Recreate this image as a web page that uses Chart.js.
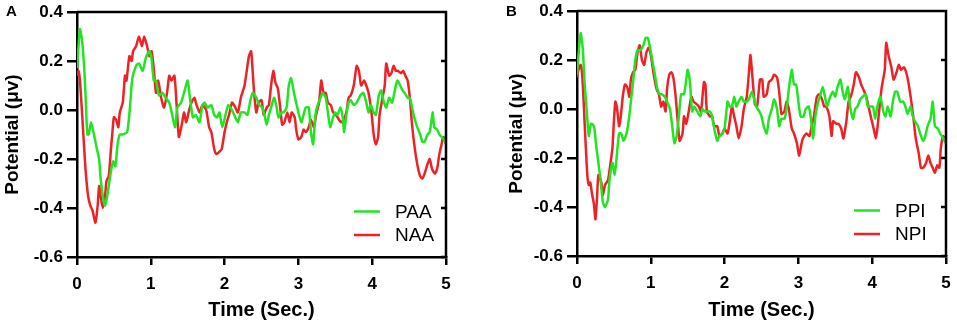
<!DOCTYPE html>
<html>
<head>
<meta charset="utf-8">
<script src="https://cdn.jsdelivr.net/npm/chart.js@4.4.1/dist/chart.umd.min.js"></script>
<style>
  body { margin: 0; background: #fff; width: 957px; height: 327px; position: relative; overflow: hidden; }
  canvas { position: absolute; top: 0; }
  .tag { position: absolute; font: bold 15px "Liberation Sans", Arial, sans-serif; }
</style>
</head>
<body>
<canvas id="chartA" width="478" height="327" style="left:0"></canvas>
<canvas id="chartB" width="479" height="327" style="left:478px"></canvas>
<div class="tag" style="left:6px;top:2px">A</div>
<div class="tag" style="left:506px;top:2px">B</div>
<script>
// time (sec), potential (uV)
const paa = [[0,0.17],[0.04,0.33],[0.07,0.28],[0.10,0.16],[0.12,0.03],[0.14,-0.10],[0.16,-0.10],[0.19,-0.05],[0.23,-0.10],[0.27,-0.16],[0.30,-0.20],[0.32,-0.28],[0.36,-0.37],[0.38,-0.39],[0.41,-0.35],[0.46,-0.25],[0.49,-0.21],[0.52,-0.23],[0.55,-0.14],[0.58,-0.10],[0.62,-0.10],[0.68,-0.09],[0.72,0.02],[0.75,0.13],[0.80,0.18],[0.84,0.19],[0.89,0.16],[0.93,0.21],[0.98,0.24],[1.01,0.21],[1.04,0.12],[1.07,0.12],[1.11,0.06],[1.16,0.07],[1.20,0.05],[1.25,0.03],[1.29,-0.02],[1.33,-0.07],[1.36,0.01],[1.41,0.03],[1.45,0.07],[1.50,0.12],[1.53,0.05],[1.57,-0.03],[1.61,-0.02],[1.66,-0.05],[1.70,0.02],[1.73,0.03],[1.77,0.01],[1.82,0.02],[1.86,-0.02],[1.90,-0.03],[1.93,-0.01],[1.97,-0.07],[2.02,-0.01],[2.05,0.02],[2.10,0.00],[2.13,-0.02],[2.18,-0.05],[2.22,-0.01],[2.27,-0.01],[2.31,-0.02],[2.35,0.04],[2.38,0.07],[2.43,0.05],[2.47,0.02],[2.51,0.01],[2.54,-0.02],[2.57,-0.06],[2.60,-0.02],[2.63,0.01],[2.67,0.05],[2.70,0.02],[2.73,-0.03],[2.77,-0.01],[2.80,-0.01],[2.84,0.01],[2.87,0.10],[2.90,0.13],[2.94,0.07],[2.97,0.03],[3.00,-0.01],[3.04,-0.05],[3.07,-0.02],[3.10,0.01],[3.14,0.01],[3.17,-0.09],[3.20,-0.14],[3.23,-0.02],[3.26,0.02],[3.30,0.05],[3.33,0.07],[3.37,0.05],[3.40,-0.01],[3.43,-0.07],[3.47,-0.03],[3.50,-0.01],[3.53,-0.02],[3.57,0.01],[3.60,-0.03],[3.62,-0.09],[3.65,-0.02],[3.68,0.03],[3.71,0.04],[3.75,0.02],[3.79,0.03],[3.84,0.06],[3.88,0.07],[3.92,0.03],[3.95,-0.01],[3.98,0.02],[4.02,-0.01],[4.05,-0.02],[4.09,0.06],[4.12,0.08],[4.16,0.03],[4.19,0.01],[4.23,0.05],[4.27,0.03],[4.30,0.07],[4.34,0.12],[4.38,0.10],[4.41,0.08],[4.44,0.07],[4.48,0.05],[4.51,0.05],[4.54,0.01],[4.57,-0.03],[4.61,-0.07],[4.65,-0.10],[4.68,-0.13],[4.71,-0.13],[4.75,-0.10],[4.78,-0.09],[4.82,-0.01],[4.84,-0.07],[4.88,-0.08],[4.91,-0.10],[4.94,-0.11],[4.97,-0.12],[5.00,-0.14]];

const naa = [[0,0.14],[0.02,0.16],[0.04,0.12],[0.07,-0.02],[0.10,-0.17],[0.12,-0.26],[0.15,-0.35],[0.18,-0.39],[0.21,-0.41],[0.25,-0.46],[0.28,-0.39],[0.30,-0.31],[0.32,-0.35],[0.35,-0.40],[0.38,-0.35],[0.40,-0.29],[0.43,-0.27],[0.46,-0.16],[0.48,-0.09],[0.50,-0.03],[0.53,-0.04],[0.56,-0.07],[0.58,-0.01],[0.62,0.03],[0.65,0.14],[0.67,0.12],[0.71,0.22],[0.74,0.20],[0.76,0.24],[0.80,0.26],[0.84,0.30],[0.88,0.26],[0.91,0.30],[0.95,0.26],[0.98,0.22],[1.01,0.24],[1.04,0.17],[1.07,0.07],[1.10,0.12],[1.14,0.05],[1.18,0.01],[1.22,0.07],[1.25,0.14],[1.28,0.12],[1.32,0.14],[1.35,0.02],[1.38,-0.11],[1.42,-0.06],[1.45,-0.01],[1.48,-0.05],[1.52,0.00],[1.55,0.03],[1.59,0.05],[1.62,0.02],[1.66,-0.01],[1.70,0.02],[1.75,0.00],[1.79,-0.07],[1.82,-0.09],[1.86,-0.16],[1.89,-0.18],[1.93,-0.17],[1.96,-0.16],[2.00,-0.09],[2.03,-0.05],[2.06,-0.02],[2.10,0.03],[2.13,0.02],[2.18,-0.01],[2.22,0.05],[2.27,0.10],[2.30,0.16],[2.33,0.22],[2.36,0.24],[2.38,0.16],[2.40,0.07],[2.43,-0.01],[2.46,0.03],[2.50,0.04],[2.53,-0.02],[2.57,0.01],[2.60,0.02],[2.63,0.10],[2.66,0.16],[2.69,0.11],[2.72,0.09],[2.75,0.02],[2.78,-0.06],[2.81,-0.05],[2.85,-0.01],[2.88,-0.05],[2.91,-0.01],[2.95,-0.03],[2.97,-0.08],[3.00,-0.12],[3.04,-0.11],[3.07,-0.08],[3.10,-0.09],[3.14,-0.07],[3.17,-0.04],[3.21,-0.07],[3.24,-0.02],[3.28,0.03],[3.31,0.12],[3.34,0.07],[3.37,0.07],[3.40,0.03],[3.44,0.02],[3.47,-0.01],[3.51,-0.02],[3.55,-0.04],[3.58,-0.05],[3.61,-0.04],[3.65,-0.01],[3.68,0.05],[3.71,0.06],[3.75,0.10],[3.79,0.18],[3.82,0.16],[3.85,0.10],[3.89,0.12],[3.92,0.10],[3.95,0.07],[3.99,-0.01],[4.02,-0.10],[4.05,-0.14],[4.08,-0.11],[4.10,-0.02],[4.14,0.05],[4.17,0.10],[4.19,0.19],[4.23,0.14],[4.26,0.15],[4.29,0.18],[4.32,0.16],[4.35,0.16],[4.39,0.15],[4.42,0.16],[4.45,0.14],[4.48,0.12],[4.51,0.05],[4.54,-0.06],[4.57,-0.14],[4.61,-0.22],[4.65,-0.27],[4.68,-0.28],[4.71,-0.26],[4.75,-0.22],[4.78,-0.20],[4.81,-0.24],[4.85,-0.26],[4.88,-0.24],[4.91,-0.18],[4.94,-0.14],[4.96,-0.11],[4.99,-0.12]];

const ppi = [[0,0.14],[0.02,0.22],[0.05,0.31],[0.08,0.24],[0.10,0.12],[0.13,0.00],[0.16,-0.11],[0.19,-0.06],[0.23,-0.07],[0.26,-0.15],[0.29,-0.22],[0.32,-0.29],[0.35,-0.38],[0.38,-0.40],[0.42,-0.37],[0.44,-0.29],[0.48,-0.22],[0.51,-0.27],[0.53,-0.22],[0.57,-0.10],[0.60,-0.10],[0.63,-0.13],[0.67,-0.10],[0.70,-0.05],[0.73,0.03],[0.76,0.11],[0.79,0.20],[0.82,0.24],[0.86,0.24],[0.90,0.26],[0.93,0.29],[0.96,0.29],[0.99,0.25],[1.02,0.20],[1.05,0.15],[1.09,0.08],[1.12,0.06],[1.15,0.06],[1.19,0.05],[1.22,0.03],[1.26,0.00],[1.29,-0.07],[1.32,-0.14],[1.35,-0.11],[1.38,-0.03],[1.41,0.06],[1.45,0.06],[1.48,0.12],[1.50,0.16],[1.53,0.11],[1.56,-0.01],[1.59,0.01],[1.63,-0.01],[1.67,-0.03],[1.70,0.00],[1.73,-0.01],[1.76,-0.01],[1.80,-0.01],[1.83,-0.03],[1.86,-0.08],[1.90,-0.13],[1.93,-0.11],[1.97,-0.10],[2.00,-0.08],[2.04,0.03],[2.07,0.01],[2.10,0.01],[2.13,0.05],[2.16,0.01],[2.19,0.03],[2.23,0.05],[2.26,0.03],[2.30,0.03],[2.33,0.04],[2.37,0.07],[2.40,0.04],[2.43,0.01],[2.47,-0.01],[2.50,-0.03],[2.53,-0.07],[2.57,-0.10],[2.60,-0.04],[2.64,0.00],[2.67,0.04],[2.71,0.00],[2.74,-0.07],[2.77,-0.04],[2.81,-0.04],[2.84,0.00],[2.87,0.08],[2.91,0.16],[2.94,0.10],[2.97,0.10],[3.00,0.03],[3.03,-0.03],[3.07,-0.03],[3.10,0.00],[3.14,0.01],[3.17,-0.04],[3.20,-0.12],[3.23,-0.03],[3.26,0.02],[3.29,0.05],[3.33,0.09],[3.36,0.05],[3.39,0.01],[3.43,0.05],[3.47,0.07],[3.50,0.05],[3.53,0.09],[3.57,0.12],[3.60,0.07],[3.63,0.04],[3.67,0.09],[3.70,0.01],[3.74,-0.04],[3.77,0.00],[3.80,0.01],[3.84,0.04],[3.87,0.05],[3.91,0.06],[3.94,0.01],[3.97,0.01],[4.01,0.01],[4.04,-0.04],[4.07,0.01],[4.11,0.05],[4.15,-0.01],[4.18,-0.03],[4.21,0.01],[4.25,-0.03],[4.28,0.03],[4.31,0.07],[4.34,0.07],[4.38,0.03],[4.42,0.03],[4.45,0.01],[4.48,-0.02],[4.52,0.01],[4.55,-0.03],[4.58,-0.05],[4.62,-0.07],[4.65,-0.10],[4.69,-0.13],[4.72,-0.11],[4.75,-0.07],[4.79,-0.04],[4.82,0.03],[4.85,-0.07],[4.89,-0.08],[4.92,-0.10],[4.96,-0.12],[5.00,-0.14]];

const npi = [[0,0.13],[0.02,0.16],[0.05,0.18],[0.07,0.14],[0.09,0.03],[0.11,-0.10],[0.14,-0.27],[0.16,-0.31],[0.18,-0.30],[0.20,-0.34],[0.23,-0.39],[0.25,-0.45],[0.27,-0.37],[0.29,-0.27],[0.33,-0.30],[0.35,-0.35],[0.38,-0.31],[0.42,-0.29],[0.45,-0.23],[0.48,-0.16],[0.50,-0.05],[0.52,0.03],[0.54,0.01],[0.57,-0.07],[0.59,-0.04],[0.62,0.05],[0.65,0.10],[0.68,0.09],[0.71,0.05],[0.73,0.12],[0.76,0.15],[0.79,0.16],[0.82,0.23],[0.85,0.26],[0.88,0.20],[0.91,0.18],[0.94,0.23],[0.97,0.25],[1.00,0.22],[1.04,0.14],[1.08,0.08],[1.11,0.06],[1.14,0.01],[1.17,0.03],[1.20,-0.01],[1.22,0.08],[1.25,0.14],[1.28,0.15],[1.31,0.12],[1.34,0.04],[1.37,-0.07],[1.39,-0.13],[1.43,-0.10],[1.45,-0.03],[1.48,-0.06],[1.52,0.00],[1.55,0.05],[1.58,0.03],[1.62,0.02],[1.65,0.01],[1.68,-0.01],[1.72,0.11],[1.74,0.10],[1.76,-0.01],[1.80,-0.03],[1.83,-0.03],[1.86,-0.07],[1.90,-0.07],[1.93,-0.11],[1.97,-0.10],[2.00,-0.08],[2.04,-0.10],[2.07,-0.05],[2.10,0.01],[2.13,-0.03],[2.16,-0.07],[2.19,-0.12],[2.23,-0.07],[2.26,0.00],[2.30,0.05],[2.33,0.15],[2.35,0.22],[2.38,0.12],[2.41,0.02],[2.44,0.01],[2.48,0.12],[2.51,0.12],[2.53,0.05],[2.57,0.06],[2.60,0.11],[2.64,0.12],[2.67,0.14],[2.71,0.13],[2.74,0.07],[2.77,-0.02],[2.81,-0.01],[2.84,0.03],[2.87,0.00],[2.91,-0.08],[2.94,-0.10],[2.98,-0.14],[3.01,-0.19],[3.05,-0.13],[3.08,-0.11],[3.11,-0.10],[3.15,-0.11],[3.18,-0.07],[3.21,-0.03],[3.25,0.05],[3.28,0.06],[3.32,0.04],[3.35,0.01],[3.38,0.01],[3.42,-0.03],[3.45,-0.11],[3.47,-0.05],[3.51,-0.06],[3.54,-0.06],[3.58,-0.08],[3.61,-0.12],[3.65,-0.05],[3.68,0.03],[3.71,0.05],[3.75,0.10],[3.78,0.15],[3.82,0.13],[3.85,0.10],[3.88,0.08],[3.92,0.05],[3.95,0.01],[3.98,-0.03],[4.02,-0.08],[4.05,-0.12],[4.07,-0.08],[4.10,0.01],[4.13,0.09],[4.17,0.16],[4.19,0.27],[4.22,0.22],[4.26,0.17],[4.29,0.12],[4.33,0.15],[4.36,0.18],[4.39,0.16],[4.43,0.17],[4.46,0.15],[4.49,0.11],[4.53,0.03],[4.56,-0.04],[4.59,-0.12],[4.63,-0.18],[4.66,-0.24],[4.69,-0.24],[4.73,-0.22],[4.76,-0.19],[4.79,-0.22],[4.82,-0.24],[4.85,-0.26],[4.88,-0.23],[4.91,-0.24],[4.93,-0.16],[4.96,-0.11],[4.98,-0.12]];

const xTicks = [0, 1, 2, 3, 4, 5];
const yTicks = [-0.6, -0.4, -0.2, 0, 0.2, 0.4];

const GREEN = 'rgb(34,228,34)';
const RED = 'rgb(236,34,38)';
const FONT = '"Liberation Sans", Arial, sans-serif';

Chart.defaults.font.family = FONT;
Chart.defaults.color = '#000';

// top + right frame, inward right ticks, legend in lower right
const framePlugin = {
  id: 'frame',
  afterDraw(chart) {
    const { ctx, chartArea: a, scales } = chart;
    ctx.save();
    ctx.strokeStyle = '#000';
    ctx.lineWidth = 2.5;
    ctx.beginPath();
    ctx.moveTo(a.left, a.top);
    ctx.lineTo(a.right, a.top);
    ctx.lineTo(a.right, a.bottom);
    yTicks.forEach(v => {
      const y = scales.y.getPixelForValue(v);
      ctx.moveTo(a.right, y);
      ctx.lineTo(a.right - 5, y);
    });
    ctx.stroke();

    ctx.font = '19px ' + FONT;
    ctx.textBaseline = 'middle';
    ctx.fillStyle = '#000';
    const rows = [45.5, 22];
    chart.data.datasets.forEach((ds, i) => {
      const y = a.bottom - rows[i];
      ctx.strokeStyle = ds.borderColor;
      ctx.lineWidth = 2.5;
      ctx.beginPath();
      ctx.moveTo(a.right - 92, y);
      ctx.lineTo(a.right - 66, y);
      ctx.stroke();
      ctx.fillText(ds.label, a.right - 51, y + 1);
    });
    ctx.restore();
  }
};

function drawPanel(id, series, box) {
  new Chart(document.getElementById(id), {
    type: 'line',
    data: {
      datasets: series.map(s => ({
        label: s.name,
        data: s.points.map(p => ({ x: p[0], y: p[1] })),
        borderColor: s.color,
        borderWidth: 2.5,
        pointRadius: 0,
        tension: 0.2,
        fill: false
      }))
    },
    options: {
      responsive: false,
      animation: false,
      layout: { padding: { left: box.padLeft, right: box.padRight, top: box.padTop, bottom: 0 } },
      plugins: { legend: { display: false }, tooltip: { enabled: false } },
      scales: {
        x: {
          type: 'linear',
          min: 0, max: 5,
          afterBuildTicks: s => { s.ticks = xTicks.map(v => ({ value: v })); },
          afterFit: s => { s.height = box.xHeight; s.paddingLeft = 0; s.paddingRight = 0; },
          ticks: { font: { size: 17, weight: 'bold' }, padding: 9, callback: v => String(v) },
          grid: { drawOnChartArea: false, tickLength: 8, color: '#000', lineWidth: 2.5 },
          border: { color: '#000', width: 2.5 },
          title: { display: true, text: 'Time (Sec.)', font: { size: 20, weight: 'bold' }, padding: { top: 0, bottom: 5 } }
        },
        y: {
          min: -0.6, max: 0.4,
          afterBuildTicks: s => { s.ticks = yTicks.map(v => ({ value: v })); },
          afterFit: s => { s.width = box.yWidth; s.paddingTop = 0; s.paddingBottom = 0; },
          ticks: { font: { size: 17, weight: 'bold' }, padding: 4, callback: v => v.toFixed(1) },
          grid: { drawOnChartArea: false, tickLength: 10, color: '#000', lineWidth: 2.5 },
          border: { color: '#000', width: 2.5 },
          title: { display: true, text: 'Potential (μv)', font: { size: 19, weight: 'bold' }, padding: { top: box.titlePad, bottom: 0 } }
        }
      }
    },
    plugins: [framePlugin]
  });
}

drawPanel('chartA', [
  { name: 'PAA', points: paa, color: GREEN },
  { name: 'NAA', points: naa, color: RED }
], { padLeft: 0, padRight: 32, padTop: 12, yWidth: 77, xHeight: 70, titlePad: 1 });

drawPanel('chartB', [
  { name: 'PPI', points: ppi, color: GREEN },
  { name: 'NPI', points: npi, color: RED }
], { padLeft: 0, padRight: 11, padTop: 11, yWidth: 99, xHeight: 71, titlePad: 27 });
</script>
</body>
</html>
